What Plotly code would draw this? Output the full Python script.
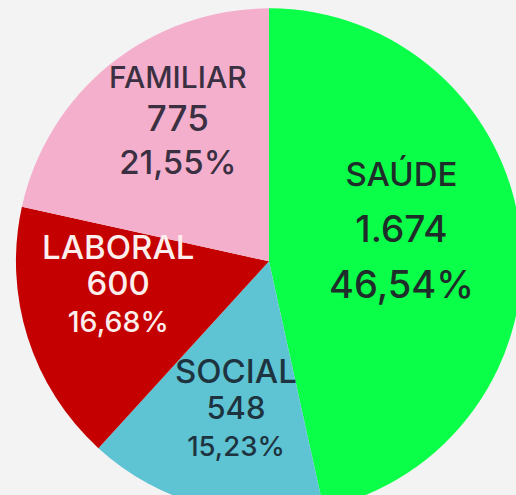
'''
    Pie chart of cases by area (Saúde, Social, Laboral, Familiar).
'''
import plotly.graph_objects as go

labels = ['SAÚDE', 'SOCIAL', 'LABORAL', 'FAMILIAR']
values = [1674, 548, 600, 775]
colors = ['#0aff48', '#5ec3d3', '#c50000', '#f4afcc']

# text styling per slice: label / value / percent sizes and base size (line gap)
line_sizes = [(33, 37, 38), (33, 31, 27.5), (33, 33, 28.5), (30, 35, 33)]
base_sizes = [43, 28, 28, 33]
text_colors = ['#1f2d2a', '#1e3340', '#fdeeee', '#3a3042']
# where each block of text sits (paper coords)
text_pos = [(0.7556, 0.5567), (0.4436, 0.2173), (0.2218, 0.4558), (0.3346, 0.7683)]

W, H = 532, 520
total = sum(values)

def fmt_int(v):
      return f"{v:,}".replace(',', '.')

def fmt_pct(v):
      return f"{100 * v / total:.2f}%".replace('.', ',')

fig = go.Figure()
fig.add_trace(go.Pie(
      labels=labels,
      values=values,
      sort=False,
      direction='clockwise',
      rotation=0,
      marker=dict(colors=colors, line=dict(width=0)),
      textinfo='none',
      hoverinfo='label+value+percent',
      showlegend=False,
      domain=dict(x=[0.030, 0.981], y=[0.011, 0.984])
))

for lab, val, sz, base, col, pos in zip(labels, values, line_sizes, base_sizes,
                                        text_colors, text_pos):
      txt = (f"<span style='font-size:{sz[0]}px'>{lab}</span><br>"
             f"<span style='font-size:{sz[1]}px'>{fmt_int(val)}</span><br>"
             f"<span style='font-size:{sz[2]}px'>{fmt_pct(val)}</span>")
      fig.add_annotation(
            x=pos[0], y=pos[1], xref='paper', yref='paper',
            xanchor='center', yanchor='middle', align='center',
            text=txt, showarrow=False,
            font=dict(size=base, color=col, family='Inter', weight=500)
      )

fig.update_layout(
      width=W,
      height=H,
      margin=dict(l=0, r=0, t=0, b=0),
      paper_bgcolor='#f3f3f3',
      plot_bgcolor='#f3f3f3',
      font_family='Inter'
)

fig.write_html("out.html",
               config={'displayModeBar': False},
               post_script="document.body.style.margin='0';document.body.style.overflow='hidden';")
